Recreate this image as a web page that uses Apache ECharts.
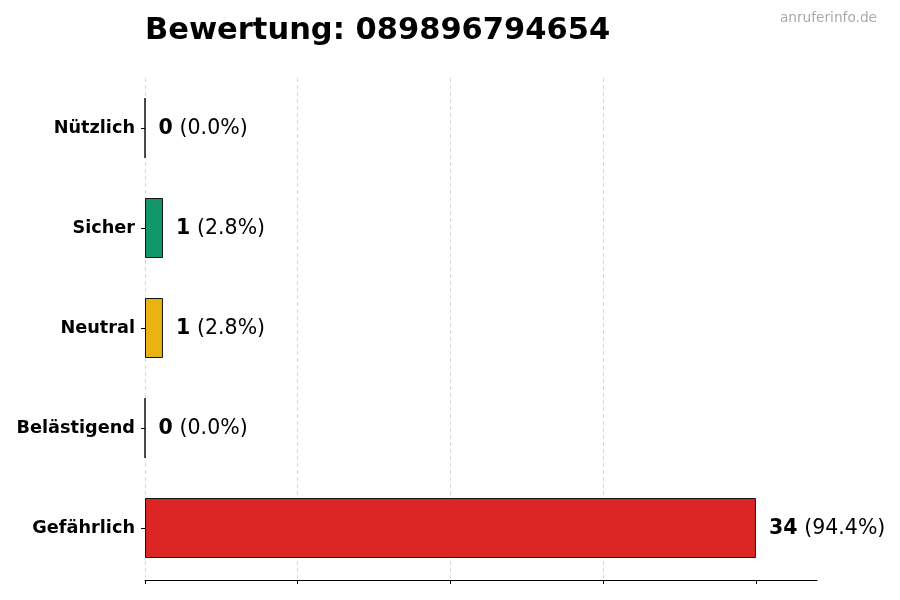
<!DOCTYPE html>
<html>
<head>
<meta charset="utf-8">
<script src="https://cdn.jsdelivr.net/npm/echarts@6/dist/echarts.min.js"></script>
<style>
html,body{margin:0;padding:0;background:#fff;}
#c{width:900px;height:600px;}
</style>
</head>
<body>
<div id="c"></div>
<script>
const titleText = 'Bewertung: 089896794654';
const watermark = 'anruferinfo.de';
const categories = ['Nützlich', 'Sicher', 'Neutral', 'Belästigend', 'Gefährlich'];
const values = [0, 1, 1, 0, 34];
const colors = ['#2f7fd0', '#12976a', '#e9b311', '#f07a1a', '#dc2626'];
const xTicks = [0, 8.5, 17, 25.5, 34];
const xMax = 37.4;

const total = values.reduce((a, b) => a + b, 0);
const chart = echarts.init(document.getElementById('c'));
chart.setOption({
  animation: false,
  backgroundColor: '#fff',
  textStyle: { fontFamily: 'DejaVu Sans' },
  title: [{
    text: titleText,
    left: 145, top: 16, padding: 0,
    textStyle: { fontFamily: 'DejaVu Sans', fontSize: 30.5, fontWeight: 'bold', color: '#000' }
  }, {
    text: watermark,
    right: 23, top: 11, padding: 0,
    textStyle: { fontFamily: 'DejaVu Sans', fontSize: 13.7, fontWeight: 'normal', color: '#aaaaaa' }
  }],
  grid: { left: 145, right: 83, top: 78, bottom: 22, containLabel: false },
  xAxis: {
    type: 'value', min: 0, max: xMax, interval: 8.5, offset: 2,
    axisLine: { show: true, lineStyle: { color: '#000', width: 1 } },
    axisTick: { show: true, length: 4, customValues: xTicks, lineStyle: { color: '#000' } },
    axisLabel: { show: false },
    splitLine: { show: true, showMinLine: true, showMaxLine: false, lineStyle: { color: '#d8d8d8', type: [4, 3], width: 1 } }
  },
  yAxis: {
    type: 'category', data: categories, inverse: true,
    axisLine: { show: false },
    axisTick: { show: true, length: 4, alignWithLabel: true, lineStyle: { color: '#000' } },
    axisLabel: { color: '#000', fontWeight: 'bold', fontSize: 17.7, margin: 10, padding: [2, 0, 0, 0], fontFamily: 'DejaVu Sans' },
    splitLine: { show: false }
  },
  series: [{
    type: 'bar',
    barWidth: 60,
    data: values.map((v, i) => ({
      value: v,
      itemStyle: { color: colors[i], borderColor: '#111', borderWidth: 1 }
    })),
    label: {
      show: true, position: 'right', distance: 13, offset: [0, 1],
      formatter: p => '{b|' + p.value + '} {n|(' + (p.value / total * 100).toFixed(1) + '%)}',
      rich: {
        b: { fontFamily: 'DejaVu Sans', fontSize: 20.5, fontWeight: 'bold', color: '#000', padding: [0, 3, 0, 0] },
        n: { fontFamily: 'DejaVu Sans', fontSize: 20.5, fontWeight: 'normal', color: '#000' }
      }
    }
  }]
});
</script>
</body>
</html>
